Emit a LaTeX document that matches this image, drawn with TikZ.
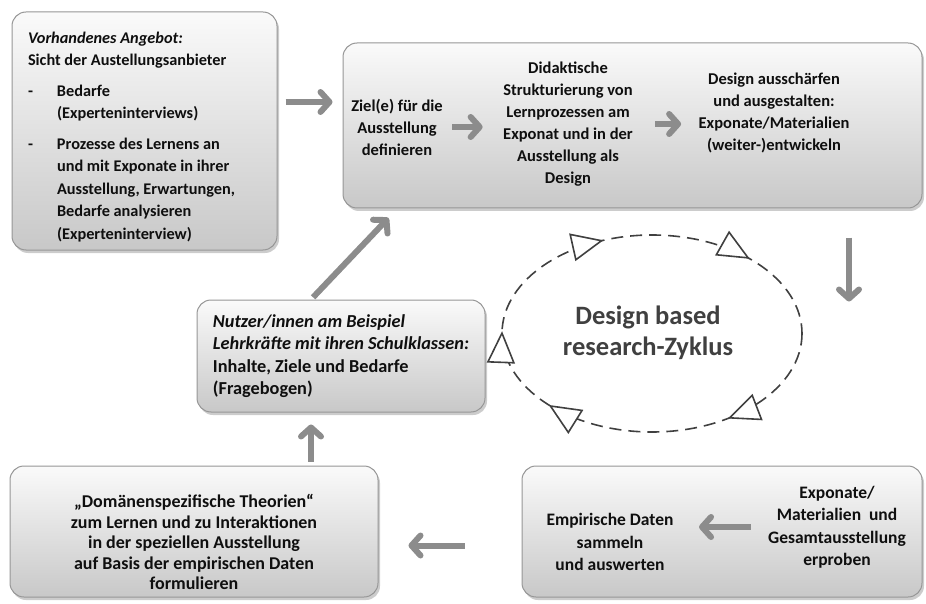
\documentclass[tikz,border=0pt]{standalone}
\usepackage{fontspec}
\setmainfont{Carlito}
\usetikzlibrary{arrows.meta,positioning,calc,shadows,decorations.markings}

\definecolor{boxline}{RGB}{150,150,150}
\definecolor{boxtop}{RGB}{250,250,250}
\definecolor{boxbot}{RGB}{200,200,200}
\definecolor{arrgray}{RGB}{140,140,140}
\definecolor{txtgray}{RGB}{15,15,15}
\definecolor{cycgray}{RGB}{64,64,64}

\tikzset{cyctip/.tip={Triangle[length=32pt,width=28pt,fill=white]}}

\begin{document}
\begin{tikzpicture}[x=1pt, y=-1pt, >={Straight Barb[length=9pt,width=20pt,round]},
  font=\fontsize{16.5}{22}\selectfont\bfseries, text=txtgray,
  box/.style={draw=boxline, line width=1pt, rounded corners=14pt,
    top color=boxtop, bottom color=boxbot,
    drop shadow={shadow xshift=2pt, shadow yshift=-3pt, opacity=0.4}},
  flow/.style={->, draw=arrgray, line width=6pt},
  cyc/.style={draw=cycgray, line width=1.6pt, dash pattern=on 12pt off 7pt,
    decoration={markings,
      mark=at position 0.152 with {\arrow{cyctip}},
      mark=at position 0.387 with {\arrow{cyctip}},
      mark=at position 0.503 with {\arrow{cyctip}},
      mark=at position 0.688 with {\arrow{cyctip}},
      mark=at position 0.879 with {\arrow{cyctip}}}}]
  \useasboundingbox (0,0) rectangle (926,604);

  % offer of the exhibitors
  \node[box, minimum width=265pt, minimum height=238pt] (angebot) at (144.5,131) {};
  \node[text width=233pt, align=flush left, font=\fontsize{16.3}{22.5}\selectfont\bfseries]
    (angebottxt) at (144.5,137) {\textit{Vorhandenes Angebot:}\\
    Sicht der Austellungsanbieter\\[8pt]
    \makebox[29pt][l]{-}Bedarfe\\
    \hspace*{29pt}(Experteninterviews)\\[8pt]
    \makebox[29pt][l]{-}Prozesse des Lernens an\\
    \hspace*{29pt}und mit Exponate in ihrer\\
    \hspace*{29pt}Ausstellung, Erwartungen,\\
    \hspace*{29pt}Bedarfe analysieren\\
    \hspace*{29pt}(Experteninterview)};

  % design box
  \node[box, minimum width=579pt, minimum height=165pt] (ziele) at (632.5,125.5) {};
  \node[align=center] (ziel) at (397,127) {Ziel(e) für die\\Ausstellung\\definieren};
  \node[align=center] (didaktik) at (568,124) {Didaktische\\Strukturierung von\\Lernprozessen am\\Exponat und in der\\Ausstellung als\\Design};
  \node[align=center] (ausschaerfen) at (774,113) {Design ausschärfen\\und ausgestalten:\\Exponate/Materialien\\(weiter-)entwickeln};
  \draw[flow, shorten <=6pt, shorten >=17pt] (ziel.east) -- (ziel.east -| didaktik.west);
  \draw[flow, shorten <=19pt, shorten >=14pt] (didaktik.east) -- (didaktik.east -| ausschaerfen.west);

  % users
  \node[box, minimum width=288pt, minimum height=112pt, align=left,
    font=\fontsize{18.3}{22.3}\selectfont\bfseries] (nutzer) at (341,356)
    {\textit{Nutzer/innen am Beispiel}\\\textit{Lehrkräfte mit ihren Schulklassen:}\\Inhalte, Ziele und Bedarfe\\(Fragebogen)};

  % testing and data
  \node[box, minimum width=400pt, minimum height=131pt] (erprobung) at (722,531.5) {};
  \node[align=center, font=\fontsize{17.5}{22.5}\selectfont\bfseries] (empirie) at (610,542) {Empirische Daten\\sammeln\\und auswerten};
  \node[align=center, font=\fontsize{17.5}{22.5}\selectfont\bfseries] (erproben) at (837,527) {Exponate/\\Materialien~ und\\Gesamtausstellung\\erproben};
  \draw[flow, shorten <=14pt, shorten >=22pt] (erproben.west) -- (erproben.west -| empirie.east);

  % theories
  \node[box, minimum width=368pt, minimum height=131pt] (theorie) at (194,531.5) {};
  \node[align=center, font=\fontsize{18}{20.5}\selectfont\bfseries] (theorietxt) at (194,542) {„Domänenspezifische Theorien“\\zum Lernen und zu Interaktionen\\in der speziellen Ausstellung\\auf Basis der empirischen Daten\\formulieren};

  % arrows between the boxes
  \draw[flow, shorten <=8pt, shorten >=10pt] ([yshift=29pt]angebot.east) -- ([yshift=29pt]angebot.east -| ziele.west);
  \draw[flow, shorten <=29pt, shorten >=164pt] ([xshift=216.5pt]ziele.south) -- ([xshift=216.5pt]ziele.south |- erprobung.north);
  \draw[flow, shorten <=57pt, shorten >=30pt] ([yshift=-14pt]erprobung.west) -- ([yshift=-14pt]erprobung.west -| theorie.east);
  \draw[flow, shorten <=4pt, shorten >=12pt] ([xshift=117pt]theorie.north) -- ([xshift=117pt]theorie.north |- nutzer.south);
  \draw[flow, shorten <=3pt, shorten >=13pt] ([xshift=-30pt]nutzer.north) -- ([xshift=55pt]ziele.south west);

  % cycle
  \coordinate (zyk) at (652,333.5);
  \draw[cyc, postaction={decorate}] ($(zyk)+(150,0)$) arc[start angle=0, end angle=360, x radius=150, y radius=98.5];
  \node[font=\fontsize{26.5}{31}\selectfont\bfseries, text=cycgray, align=center] (zyklus) at (648,333) {Design based\\research-Zyklus};
\end{tikzpicture}
\end{document}
